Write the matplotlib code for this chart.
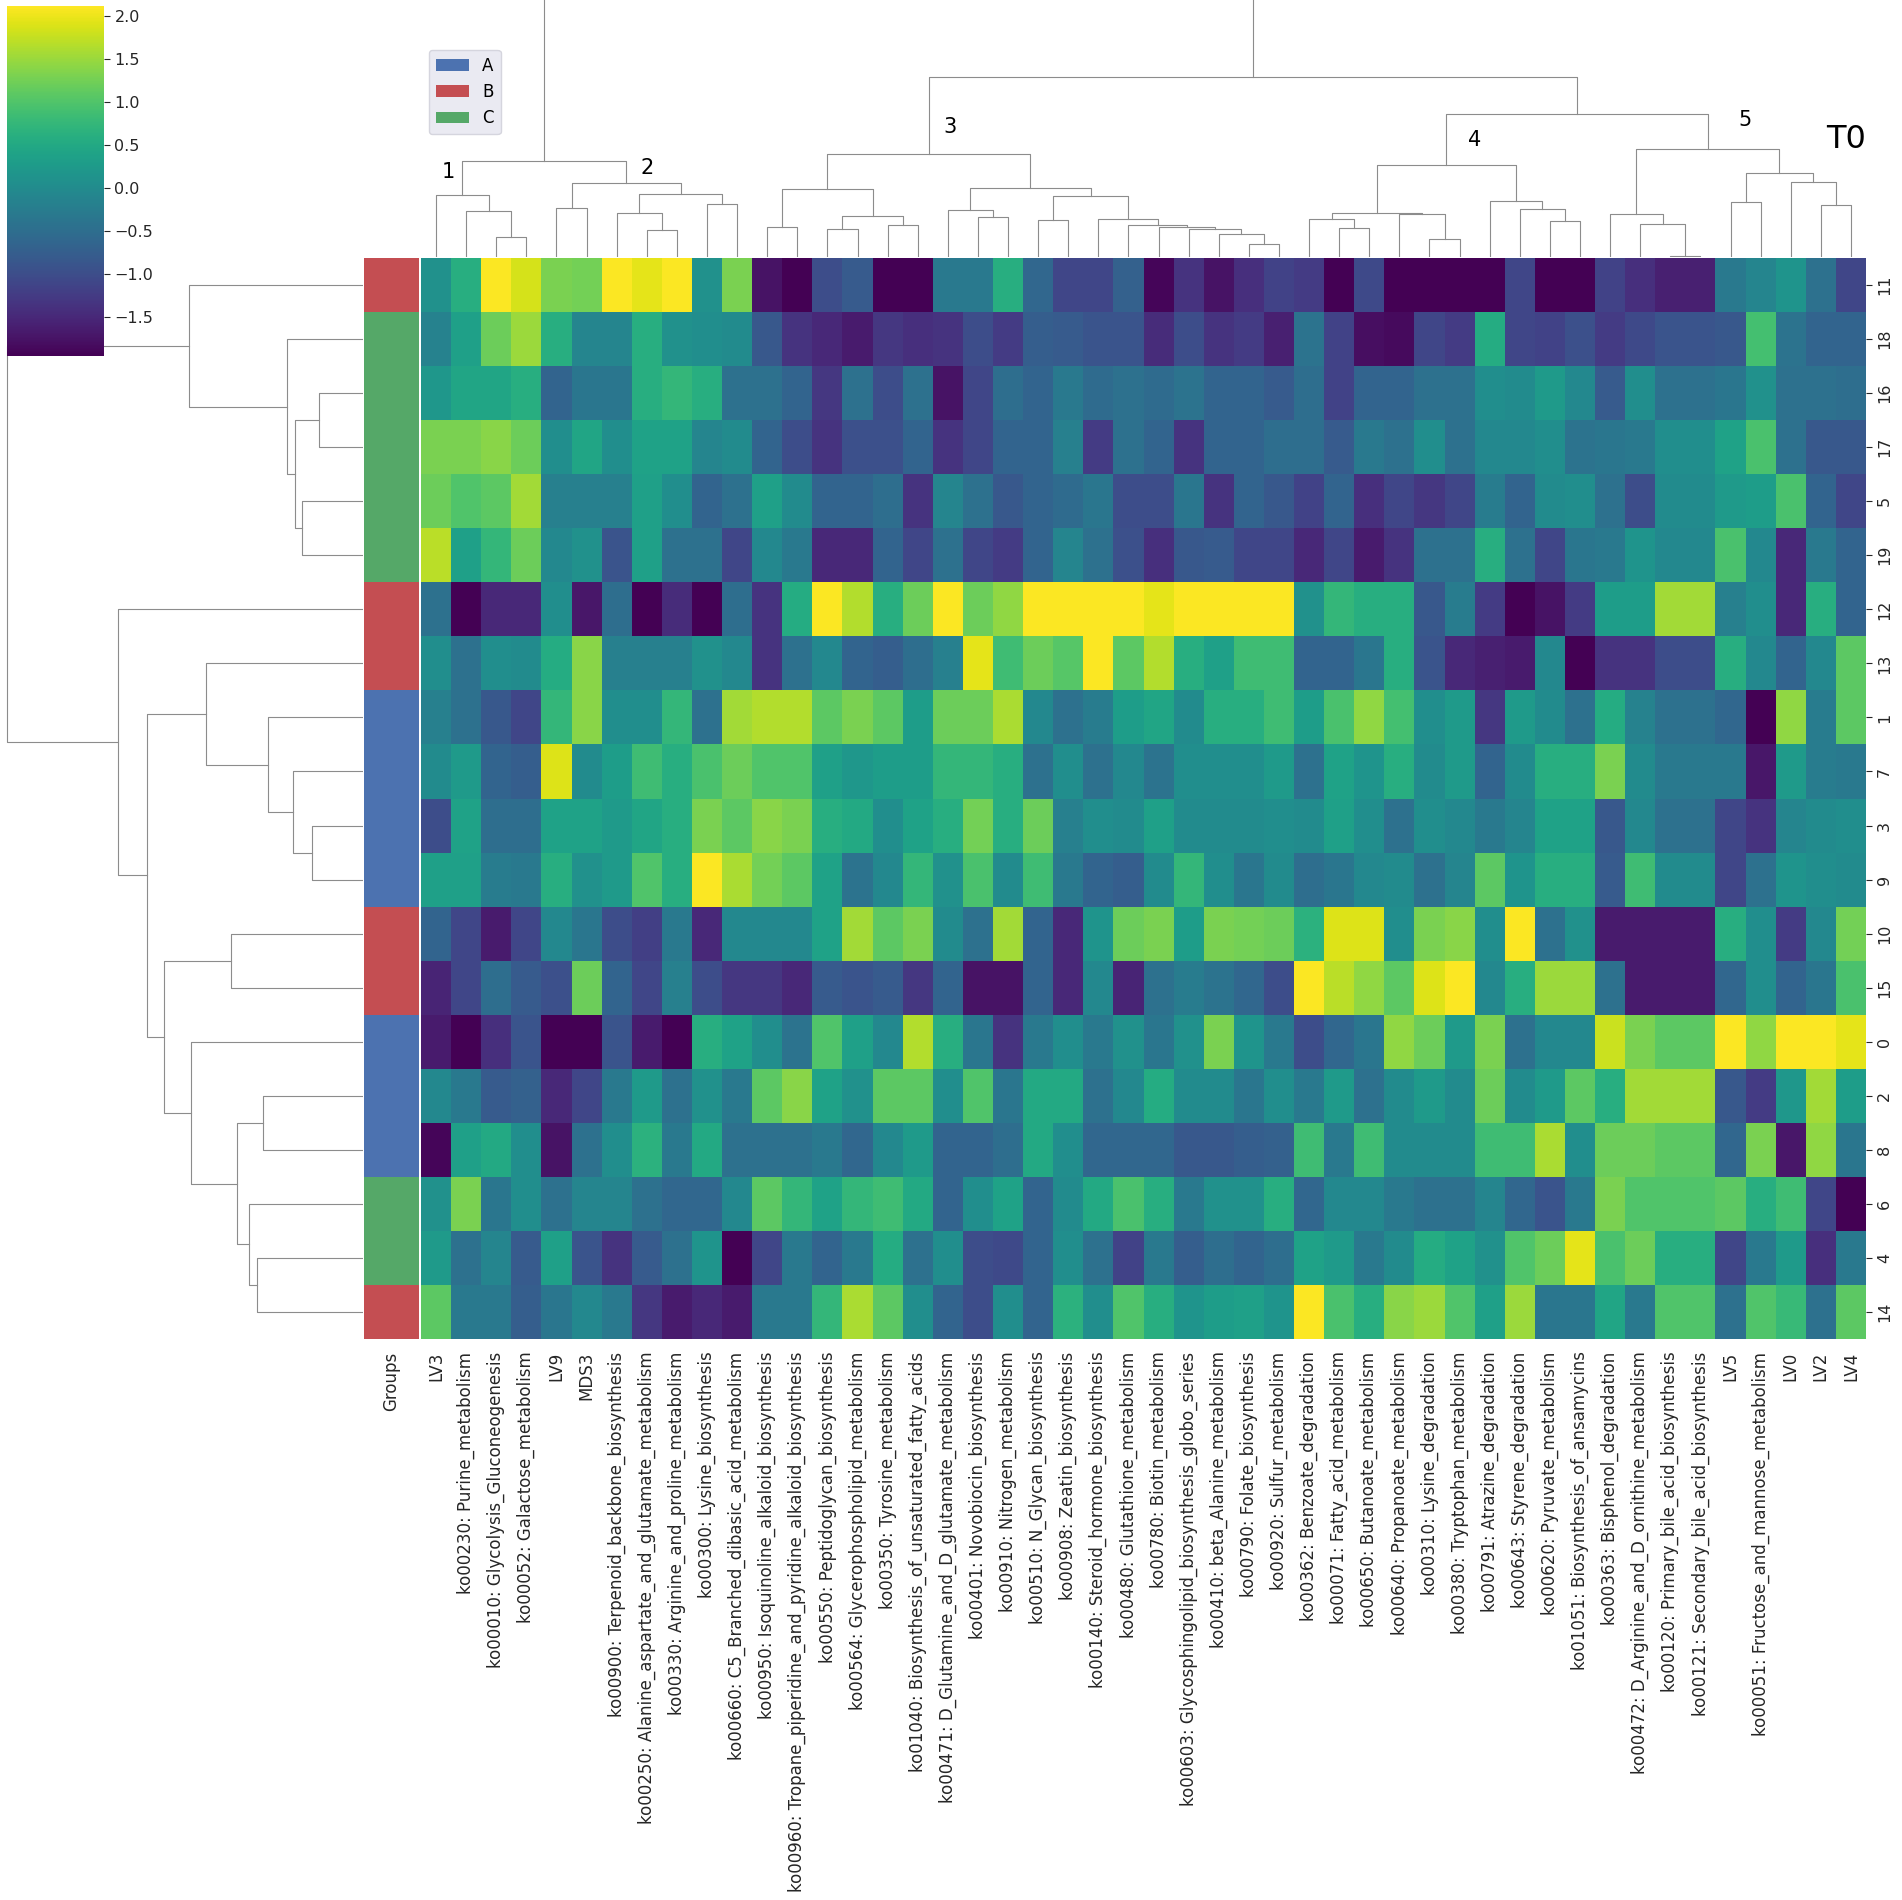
import matplotlib
matplotlib.use('Agg')
import matplotlib.pyplot as plt
from matplotlib.colors import ListedColormap
from matplotlib.patches import Patch
import numpy as np

plt.rcParams['font.family'] = 'DejaVu Sans'

# column (feature) labels, in clustered display order
col_labels = [
    'LV3', 'ko00230: Purine_metabolism', 'ko00010: Glycolysis_Gluconeogenesis',
    'ko00052: Galactose_metabolism', 'LV9', 'MDS3',
    'ko00900: Terpenoid_backbone_biosynthesis',
    'ko00250: Alanine_aspartate_and_glutamate_metabolism',
    'ko00330: Arginine_and_proline_metabolism', 'ko00300: Lysine_biosynthesis',
    'ko00660: C5_Branched_dibasic_acid_metabolism',
    'ko00950: Isoquinoline_alkaloid_biosynthesis',
    'ko00960: Tropane_piperidine_and_pyridine_alkaloid_biosynthesis',
    'ko00550: Peptidoglycan_biosynthesis', 'ko00564: Glycerophospholipid_metabolism',
    'ko00350: Tyrosine_metabolism', 'ko01040: Biosynthesis_of_unsaturated_fatty_acids',
    'ko00471: D_Glutamine_and_D_glutamate_metabolism',
    'ko00401: Novobiocin_biosynthesis', 'ko00910: Nitrogen_metabolism',
    'ko00510: N_Glycan_biosynthesis', 'ko00908: Zeatin_biosynthesis',
    'ko00140: Steroid_hormone_biosynthesis', 'ko00480: Glutathione_metabolism',
    'ko00780: Biotin_metabolism', 'ko00603: Glycosphingolipid_biosynthesis_globo_series',
    'ko00410: beta_Alanine_metabolism', 'ko00790: Folate_biosynthesis',
    'ko00920: Sulfur_metabolism', 'ko00362: Benzoate_degradation',
    'ko00071: Fatty_acid_metabolism', 'ko00650: Butanoate_metabolism',
    'ko00640: Propanoate_metabolism', 'ko00310: Lysine_degradation',
    'ko00380: Tryptophan_metabolism', 'ko00791: Atrazine_degradation',
    'ko00643: Styrene_degradation', 'ko00620: Pyruvate_metabolism',
    'ko01051: Biosynthesis_of_ansamycins', 'ko00363: Bisphenol_degradation',
    'ko00472: D_Arginine_and_D_ornithine_metabolism',
    'ko00120: Primary_bile_acid_biosynthesis', 'ko00121: Secondary_bile_acid_biosynthesis',
    'LV5', 'ko00051: Fructose_and_mannose_metabolism', 'LV0', 'LV2', 'LV4',
]

# sample labels and their groups, in clustered display order
row_labels = ['11', '18', '16', '17', '5', '19', '12', '13', '1', '7',
              '3', '9', '10', '15', '0', '2', '8', '6', '4', '14']
row_groups = ['B', 'C', 'C', 'C', 'C', 'C', 'B', 'B', 'A', 'A',
              'A', 'A', 'B', 'B', 'A', 'A', 'A', 'C', 'C', 'B']
group_names = ['A', 'B', 'C']
group_colors = ['#4c72b0', '#c44e52', '#55a868']

# z-scored values, one list per sample row
values = [
    [0.1, 0.6, 2.1, 1.85, 1.3, 1.25, 2.1, 1.95, 2.1, 0.1, 1.3, -1.75, -1.95, -1.0, -0.8, -1.95,
     -1.95, -0.3, -0.3, 0.6, -0.6, -1.1, -1.1, -0.7, -1.9, -1.35, -1.75, -1.4, -1.15, -1.25, -1.95, -1.05,
     -1.95, -1.95, -1.95, -1.95, -1.1, -1.95, -1.95, -1.15, -1.4, -1.6, -1.6, -0.3, -0.1, 0.15, -0.45, -1.1],
    [-0.15, 0.35, 1.2, 1.5, 0.6, -0.1, -0.1, 0.6, 0.1, 0.05, 0.0, -0.85, -1.35, -1.5, -1.65, -1.3,
     -1.4, -1.35, -1.0, -1.25, -0.75, -0.8, -0.9, -0.9, -1.45, -1.0, -1.35, -1.25, -1.6, -0.4, -1.15, -1.8,
     -1.85, -1.1, -1.25, 0.55, -1.1, -1.15, -0.95, -1.25, -1.05, -0.9, -0.9, -0.85, 0.9, -0.4, -0.65, -0.65],
    [0.2, 0.45, 0.45, 0.6, -0.65, -0.35, -0.35, 0.6, 0.75, 0.6, -0.45, -0.45, -0.65, -1.3, -0.45, -1.0,
     -0.45, -1.75, -1.1, -0.5, -0.65, -0.3, -0.55, -0.45, -0.55, -0.4, -0.65, -0.65, -0.8, -0.5, -1.15, -0.65,
     -0.65, -0.45, -0.45, 0.05, 0.0, 0.25, -0.05, -0.8, 0.05, -0.45, -0.45, -0.35, 0.1, -0.45, -0.45, -0.5],
    [1.3, 1.3, 1.4, 1.2, 0.05, 0.45, 0.05, 0.4, 0.4, -0.1, 0.0, -0.65, -1.0, -1.35, -0.95, -0.95,
     -0.65, -1.35, -1.1, -0.65, -0.65, -0.2, -1.25, -0.45, -0.65, -1.35, -0.65, -0.65, -0.5, -0.5, -0.8, -0.3,
     -0.45, 0.05, -0.45, -0.05, -0.05, 0.05, -0.4, -0.35, -0.3, 0.05, 0.05, 0.4, 0.95, -0.45, -0.85, -0.85],
    [1.2, 1.0, 1.1, 1.55, -0.2, -0.2, -0.2, 0.35, 0.05, -0.65, -0.45, 0.35, 0.0, -0.65, -0.65, -0.5,
     -1.35, -0.1, -0.45, -0.85, -0.65, -0.55, -0.35, -1.0, -1.0, -0.35, -1.35, -0.65, -0.85, -1.15, -0.65, -1.4,
     -1.1, -1.3, -1.1, -0.25, -0.65, 0.0, 0.05, -0.45, -1.0, 0.0, 0.0, 0.25, 0.3, 0.95, -0.65, -1.1],
    [1.7, 0.35, 0.75, 1.2, -0.05, 0.1, -0.9, 0.35, -0.45, -0.45, -1.1, -0.05, -0.3, -1.5, -1.5, -0.65,
     -1.1, -0.45, -1.1, -1.25, -0.65, -0.1, -0.45, -0.95, -1.4, -0.85, -0.8, -1.1, -1.1, -1.5, -1.1, -1.65,
     -1.35, -0.45, -0.45, 0.6, -0.45, -1.1, -0.35, -0.3, 0.15, -0.05, -0.05, 0.95, -0.05, -1.5, -0.3, -0.65],
    [-0.45, -1.95, -1.5, -1.5, 0.05, -1.7, -0.5, -1.95, -1.45, -1.95, -0.5, -1.35, 0.55, 2.1, 1.65, 0.6,
     1.2, 2.1, 1.2, 1.45, 2.1, 2.1, 2.1, 2.1, 1.95, 2.1, 2.1, 2.1, 2.1, 0.1, 0.75, 0.6,
     0.6, -0.85, -0.25, -1.25, -1.95, -1.75, -1.25, 0.3, 0.3, 1.55, 1.55, -0.2, 0.05, -1.5, 0.6, -0.65],
    [0.05, -0.45, 0.05, 0.0, 0.55, 1.4, -0.2, -0.2, -0.2, 0.1, -0.05, -1.35, -0.45, -0.05, -0.65, -0.75,
     -0.5, -0.2, 1.95, 0.85, 1.2, 1.05, 2.1, 1.1, 1.65, 0.6, 0.35, 0.85, 0.85, -0.65, -0.65, -0.35,
     0.6, -0.9, -1.5, -1.6, -1.65, -0.05, -1.95, -1.35, -1.35, -1.0, -1.0, 0.6, -0.05, -0.65, -0.05, 1.1],
    [-0.2, -0.45, -0.85, -1.1, 0.75, 1.4, 0.05, 0.05, 0.75, -0.45, 1.55, 1.65, 1.65, 1.1, 1.3, 1.1,
     0.3, 1.2, 1.2, 1.6, -0.05, -0.45, -0.25, 0.3, 0.45, 0.0, 0.6, 0.6, 0.85, 0.3, 0.95, 1.45,
     0.9, 0.05, 0.25, -1.3, 0.25, 0.0, -0.45, 0.55, -0.15, -0.45, -0.45, -0.6, -1.95, 1.45, -0.25, 1.1],
    [0.0, 0.25, -0.65, -0.75, 1.9, 0.0, 0.3, 0.85, 0.6, 0.95, 1.2, 1.0, 1.0, 0.35, 0.2, 0.3,
     0.3, 0.75, 0.75, 0.6, -0.45, 0.05, -0.45, -0.05, -0.4, 0.05, 0.05, 0.05, 0.25, -0.45, 0.4, 0.15,
     0.6, 0.0, 0.25, -0.65, 0.0, 0.6, 0.6, 1.3, 0.0, -0.3, -0.3, -0.3, -1.7, 0.25, -0.25, -0.3],
    [-1.0, 0.4, -0.5, -0.5, 0.4, 0.4, 0.25, 0.45, 0.6, 1.3, 1.1, 1.4, 1.3, 0.6, 0.5, 0.05,
     0.4, 0.6, 1.25, 0.6, 1.2, -0.2, 0.05, 0.0, 0.35, 0.0, 0.0, 0.0, 0.05, 0.0, 0.35, 0.05,
     -0.45, 0.05, -0.05, -0.3, -0.1, 0.4, 0.4, -0.85, -0.05, -0.45, -0.45, -1.1, -1.35, -0.1, 0.0, 0.05],
    [0.35, 0.35, -0.25, -0.3, 0.6, 0.1, 0.25, 1.0, 0.6, 2.1, 1.6, 1.25, 1.1, 0.4, -0.4, -0.05,
     0.75, 0.1, 0.95, 0.0, 0.85, -0.3, -0.65, -0.75, 0.0, 0.75, 0.05, -0.35, 0.0, -0.5, -0.35, -0.05,
     0.0, -0.45, -0.1, 1.1, 0.15, 0.6, 0.6, -0.8, 0.85, 0.0, 0.0, -1.1, -0.45, 0.15, 0.05, 0.0],
    [-0.65, -1.1, -1.65, -1.1, -0.05, -0.35, -1.0, -1.2, -0.3, -1.5, -0.05, -0.05, -0.05, 0.4, 1.55, 1.1,
     1.3, 0.0, -0.45, 1.55, -0.65, -1.5, 0.15, 1.2, 1.3, 0.3, 1.3, 1.25, 1.2, 0.65, 1.9, 1.9,
     0.05, 1.3, 1.4, 0.05, 2.1, -0.45, 0.1, -1.65, -1.65, -1.65, -1.65, 0.6, 0.05, -1.25, -0.05, 1.25],
    [-1.55, -1.1, -0.5, -0.8, -0.95, 1.2, -0.65, -1.1, -0.2, -1.0, -1.3, -1.3, -1.5, -0.8, -0.9, -0.8,
     -1.3, -0.65, -1.75, -1.75, -0.65, -1.5, -0.05, -1.55, -0.45, -0.25, -0.4, -0.6, -1.0, 2.1, 1.7, 1.45,
     1.1, 1.9, 2.1, -0.05, 0.6, 1.5, 1.5, -0.45, -1.65, -1.65, -1.65, -0.6, 0.05, -0.65, -0.35, 0.95],
    [-1.65, -1.95, -1.4, -0.9, -1.95, -1.95, -0.9, -1.65, -1.95, 0.6, 0.4, 0.05, -0.4, 1.0, 0.35, -0.05,
     1.65, 0.6, -0.35, -1.35, -0.3, 0.05, -0.3, 0.1, -0.35, 0.1, 1.3, 0.15, -0.3, -1.0, -0.6, -0.35,
     1.45, 1.2, 0.25, 1.3, -0.45, -0.05, -0.05, 1.8, 1.3, 1.1, 1.1, 2.1, 1.45, 2.1, 2.1, 1.95],
    [-0.05, -0.3, -0.8, -0.7, -1.5, -1.1, -0.3, 0.25, -0.45, 0.1, -0.3, 1.1, 1.4, 0.4, 0.1, 1.1,
     1.1, 0.05, 1.0, -0.35, 0.5, 0.5, -0.45, -0.05, 0.55, 0.0, 0.0, -0.35, 0.05, -0.3, 0.25, -0.45,
     0.0, 0.25, 0.0, 1.2, 0.0, 0.25, 1.1, 0.6, 1.55, 1.55, 1.55, -0.85, -1.25, 0.2, 1.55, 0.3],
    [-1.9, 0.35, 0.5, 0.05, -1.75, -0.45, 0.05, 0.65, -0.3, 0.5, -0.45, -0.45, -0.45, -0.3, -0.6, -0.05,
     0.25, -0.65, -0.65, -0.5, 0.5, 0.05, -0.6, -0.6, -0.6, -0.85, -0.85, -0.75, -0.7, 0.85, -0.3, 0.85,
     0.0, 0.0, 0.0, 0.85, 0.85, 1.6, 0.05, 1.2, 1.2, 1.1, 1.1, -0.6, 1.3, -1.7, 1.45, -0.35],
    [0.1, 1.3, -0.35, 0.05, -0.45, -0.1, -0.1, -0.45, -0.6, -0.6, -0.05, 1.1, 0.75, 0.4, 0.75, 0.85,
     0.5, -0.65, 0.05, 0.4, -0.65, 0.0, 0.5, 0.95, 0.6, -0.3, 0.1, 0.1, 0.6, -0.6, -0.05, -0.05,
     -0.3, -0.45, -0.45, -0.1, -0.6, -0.9, -0.3, 1.3, 1.0, 1.0, 1.0, 1.1, 0.6, 0.85, -1.1, -1.95],
    [0.25, -0.45, -0.1, -0.8, 0.35, -0.9, -1.35, -0.8, -0.45, 0.15, -1.95, -1.1, -0.3, -0.65, -0.3, 0.55,
     -0.45, 0.05, -1.0, -1.05, -0.65, 0.05, -0.45, -1.15, -0.3, -0.75, -0.5, -0.65, -0.5, 0.4, 0.25, -0.3,
     0.0, 0.55, 0.4, 0.1, 1.0, 1.2, 1.95, 0.95, 1.2, 0.6, 0.6, -1.1, -0.3, 0.25, -1.4, -0.3],
    [1.1, -0.3, -0.3, -0.75, -0.35, -0.05, -0.3, -1.3, -1.65, -1.5, -1.65, -0.3, -0.3, 0.75, 1.6, 1.1,
     0.05, -0.65, -1.0, 0.05, -0.65, 0.65, 0.05, 1.0, 0.6, 0.15, 0.3, 0.35, 0.15, 2.1, 0.95, 0.6,
     1.4, 1.5, 1.0, 0.35, 1.5, -0.35, -0.35, 0.45, -0.3, 1.0, 1.0, -0.45, 1.0, 0.8, -0.45, 1.1],
]

# column linkage (left, right, height); leaves 0..47 in display order
col_merges = [
    (2, 3, 60), (1, 48, 138), (0, 49, 187), (4, 5, 148), (7, 8, 80), (6, 52, 132),
    (9, 10, 158), (53, 54, 190), (51, 55, 222), (50, 56, 287), (11, 12, 90), (13, 14, 83),
    (15, 16, 97), (59, 60, 122), (58, 61, 203), (18, 19, 119), (17, 63, 142), (20, 21, 110),
    (27, 28, 40), (26, 66, 70), (25, 67, 83), (24, 68, 90), (23, 69, 95), (22, 70, 113),
    (65, 71, 184), (64, 72, 207), (62, 73, 310), (30, 31, 87), (29, 75, 115), (33, 34, 54),
    (32, 77, 129), (76, 78, 133), (37, 38, 109), (36, 80, 145), (35, 81, 168), (79, 82, 275),
    (41, 42, 2), (40, 84, 100), (39, 85, 129), (43, 44, 165), (46, 47, 155), (45, 88, 225),
    (87, 89, 252), (86, 90, 323), (83, 91, 427), (74, 92, 540), (57, 93, 800),
]

# row linkage (left, right, distance); leaves 0..19 in display order
row_merges = [
    (2, 3, 133), (4, 5, 182), (20, 21, 205), (1, 22, 228), (0, 23, 523),
    (10, 11, 153), (9, 25, 209), (8, 26, 284), (7, 27, 471), (12, 13, 397),
    (15, 16, 299), (18, 19, 319), (17, 31, 342), (30, 32, 377), (14, 33, 517),
    (29, 34, 598), (28, 35, 650), (6, 36, 737), (24, 37, 1070),
]

cluster_names = ['1', '2', '3', '4', '5']
cluster_label_pos = [(448, 172), (647, 168), (950, 127), (1475, 140), (1745, 120)]

W, H = 1902, 1900
LINE_C = '#8c8c8c'
TXT_C = '#262626'


def fbox(x0, y0, x1, y1):
    """pixel box (top-left origin) -> figure fraction rect"""
    return [x0 / W, 1 - y1 / H, (x1 - x0) / W, (y1 - y0) / H]


def draw_tree(ax, merges, n, vertical):
    pos = {i: i + 0.5 for i in range(n)}
    hgt = {i: 0.0 for i in range(n)}
    for k, (a, b, h) in enumerate(merges):
        xs = [pos[a], pos[a], pos[b], pos[b]]
        ys = [hgt[a], h, h, hgt[b]]
        if vertical:
            ax.plot(xs, ys, color=LINE_C, lw=0.8)
        else:
            ax.plot(ys, xs, color=LINE_C, lw=0.8)
        pos[n + k] = (pos[a] + pos[b]) / 2
        hgt[n + k] = h


data = np.array(values)
n_rows, n_cols = data.shape

fig = plt.figure(figsize=(W / 100, H / 100), dpi=100)

# heatmap
ax_hm = fig.add_axes(fbox(421, 258, 1866, 1339))
mesh = ax_hm.pcolormesh(data, cmap='viridis', vmin=-1.95, vmax=2.12)
ax_hm.set_xlim(0, n_cols)
ax_hm.set_ylim(n_rows, 0)
ax_hm.set_xticks(np.arange(n_cols) + 0.5)
ax_hm.set_xticklabels(col_labels, rotation=90, fontsize=12, color=TXT_C)
ax_hm.tick_params(axis='x', length=0, pad=9)
ax_hm.yaxis.tick_right()
ax_hm.set_yticks(np.arange(n_rows) + 0.5)
ax_hm.set_yticklabels(row_labels, rotation=90, va='center', fontsize=11.5, color=TXT_C)
ax_hm.tick_params(axis='y', length=4, width=0.8, color=TXT_C, pad=4)
for s in ax_hm.spines.values():
    s.set_visible(False)

# group colour strip
ax_g = fig.add_axes(fbox(364, 258, 419, 1339))
g_idx = np.array([[group_names.index(g)] for g in row_groups])
ax_g.pcolormesh(g_idx, cmap=ListedColormap(group_colors), vmin=-0.5, vmax=2.5)
ax_g.set_xlim(0, 1)
ax_g.set_ylim(n_rows, 0)
ax_g.set_xticks([0.5])
ax_g.set_xticklabels(['Groups'], rotation=90, fontsize=12, color=TXT_C)
ax_g.tick_params(axis='x', length=0, pad=9)
ax_g.set_yticks([])
for s in ax_g.spines.values():
    s.set_visible(False)

# row dendrogram
ax_rd = fig.add_axes(fbox(0, 258, 363, 1339))
draw_tree(ax_rd, row_merges, n_rows, vertical=False)
ax_rd.set_xlim(1090, 0)
ax_rd.set_ylim(n_rows, 0)
ax_rd.axis('off')

# column dendrogram
ax_cd = fig.add_axes(fbox(421, 0, 1866, 257))
draw_tree(ax_cd, col_merges, n_cols, vertical=True)
ax_cd.set_xlim(0, n_cols)
ax_cd.set_ylim(0, 770)
ax_cd.axis('off')

for name, (px, py) in zip(cluster_names, cluster_label_pos):
    fig.text(px / W, 1 - py / H, name, ha='center', va='center', fontsize=15, color='black')
fig.text(1846 / W, 1 - 139 / H, 'T0', ha='center', va='center', fontsize=23, color='black')

# colour bar
cax = fig.add_axes(fbox(7, 6, 104, 356))
cb = fig.colorbar(mesh, cax=cax)
cb.set_ticks([-1.5, -1.0, -0.5, 0.0, 0.5, 1.0, 1.5, 2.0])
cb.outline.set_visible(False)
cax.tick_params(labelsize=11.5, length=4, width=0.8, color=TXT_C, labelcolor=TXT_C)

# legend
handles = [Patch(facecolor=c, label=g) for g, c in zip(group_names, group_colors)]
fig.legend(handles=handles, loc='upper left', bbox_to_anchor=(429 / W, 1 - 50 / H),
           fontsize=12, facecolor='#eaeaf2', edgecolor='#d5d5de', framealpha=1,
           borderaxespad=0)

fig.savefig('out.png', dpi=100)
